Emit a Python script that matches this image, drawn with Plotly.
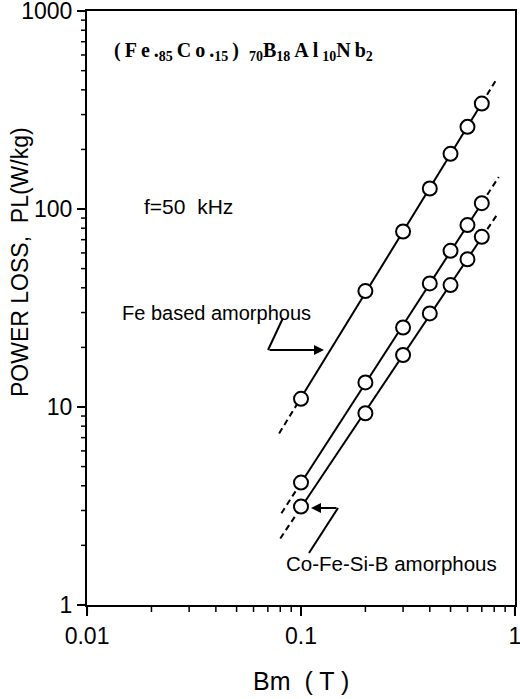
import numpy as np
import plotly.graph_objects as go

# Data (Bm in T, power loss in W/kg)
bm = [0.1, 0.2, 0.3, 0.4, 0.5, 0.6, 0.7]
pl_fe_based = [11.0, 38.5, 77.0, 127, 190, 260, 341]
pl_cofe_upper = [4.15, 13.3, 25.2, 42.1, 61.5, 83.0, 107]
pl_cofe_lower = [3.14, 9.3, 18.3, 29.7, 41.3, 55.7, 72.4]
series = [pl_fe_based, pl_cofe_upper, pl_cofe_lower]
# extent of dashed extrapolation of each fitted line
ext_lo = [0.079, 0.081, 0.080]
ext_hi = [0.81, 0.84, 0.82]

x_major = [0.01, 0.1, 1]
x_labels = ["0.01", "0.1", "1"]
y_major = [1, 10, 100, 1000]
y_labels = ["1", "10", "100", "1000"]
x_minor = [m * d for d in (0.01, 0.1) for m in range(2, 10)]
y_minor = [m * d for d in (1, 10, 100) for m in range(2, 10)]

W, H = 520, 699
ML, MR, MT, MB = 87, 5, 11, 94
PW, PH = W - ML - MR, H - MT - MB
XR = [-2.0003, 0.0003]
YR = [-0.0003, 3.0003]

fig = go.Figure()
for ys, lo, hi in zip(series, ext_lo, ext_hi):
    k, b = np.polyfit(np.log10(bm), np.log10(ys), 1)
    f = lambda x: 10 ** (k * np.log10(np.array(x)) + b)
    xs = [bm[0], bm[-1]]
    fig.add_trace(go.Scatter(x=xs, y=f(xs), mode="lines",
                             line=dict(color="black", width=2), showlegend=False, hoverinfo="skip"))
    for seg in ([lo, bm[0]], [bm[-1], hi]):
        fig.add_trace(go.Scatter(x=seg, y=f(seg), mode="lines",
                                 line=dict(color="black", width=2, dash="6px,4px"),
                                 showlegend=False, hoverinfo="skip"))
    fig.add_trace(go.Scatter(x=bm, y=ys, mode="markers",
                             marker=dict(symbol="circle", size=14, color="white",
                                         line=dict(color="black", width=2)),
                             showlegend=False))

font_ticks = dict(family="Liberation Sans", size=23, color="black")
fig.update_layout(
    xaxis=dict(type="log", range=XR, showgrid=False, zeroline=False, showline=True,
               linecolor="black", linewidth=2, mirror=True, ticks="outside", ticklen=9,
               tickwidth=2, tickcolor="black", tickmode="array", tickvals=x_major,
               ticktext=x_labels, tickfont=font_ticks, ticklabeloverflow="allow",
               automargin=False),
    yaxis=dict(type="log", range=YR, showgrid=False, zeroline=False, showline=True,
               linecolor="black", linewidth=2, mirror=True, ticks="outside", ticklen=8,
               tickwidth=2, tickcolor="black", tickmode="array", tickvals=y_major,
               ticktext=y_labels, tickfont=font_ticks, ticklabeloverflow="allow",
               automargin=False),
)

def px2paper(px, py):
    return (px - ML) / PW, (H - MB - py) / PH

annots = []
def text_at(px, py, text, size, family="Liberation Sans", xanchor="left", angle=0, weight="normal"):
    tx, ty = px2paper(px, py)
    annots.append(dict(x=tx, y=ty, xref="paper", yref="paper", xanchor=xanchor, yanchor="middle",
                       showarrow=False, text=text, textangle=angle,
                       font=dict(family=family, size=size, color="black", weight=weight)))

ts = "\u2009"
title = ts.join(["(", "F", "e", "."]) + "<sub>85</sub>" + ts + ts.join(["C", "o", "."]) + \
        "<sub>15</sub>" + ts + ")" + "  " + "<sub>70</sub>" + "B" + "<sub>18</sub>" + ts + \
        "A" + ts + "l" + ts + "<sub>10</sub>" + "N" + ts + "b" + "<sub>2</sub>"
text_at(112, 52, title, 20, family="Liberation Serif", weight="bold")
text_at(142, 206, "f=50  kHz", 21)
text_at(120, 313, "Fe based amorphous", 20)
text_at(284, 563, "Co-Fe-Si-B amorphous", 20.5)
text_at(20, 262, "POWER LOSS,  PL(W/kg)", 23, xanchor="center", angle=-90)
text_at(301, 681, "Bm  ( T )", 25, xanchor="center")

# leader arrows
tx, ty = px2paper(324, 350)
annots.append(dict(x=tx, y=ty, xref="paper", yref="paper", ax=-56, ay=0, text="",
                   showarrow=True, arrowhead=2, arrowsize=1, arrowwidth=2, arrowcolor="black"))
tx, ty = px2paper(311, 508)
annots.append(dict(x=tx, y=ty, xref="paper", yref="paper", ax=27, ay=0, text="",
                   showarrow=True, arrowhead=2, arrowsize=1, arrowwidth=2, arrowcolor="black"))

shapes = []
x0, y0 = px2paper(283, 318)
x1, y1 = px2paper(268, 350)
shapes.append(dict(type="line", xref="paper", yref="paper", x0=x0, y0=y0, x1=x1, y1=y1,
                   line=dict(color="black", width=2)))
x0, y0 = px2paper(309, 553)
x1, y1 = px2paper(338, 508)
shapes.append(dict(type="line", xref="paper", yref="paper", x0=x0, y0=y0, x1=x1, y1=y1,
                   line=dict(color="black", width=2)))

# outside tick marks (paper coordinates follow the log axis ranges)
def xpaper(v):
    return (np.log10(v) - XR[0]) / (XR[1] - XR[0])
def ypaper(v):
    return (np.log10(v) - YR[0]) / (YR[1] - YR[0])
for vals, ln, w in [(x_major, 9, 2), (x_minor, 7, 1.5)]:
    for v in vals:
        p = float(xpaper(v))
        shapes.append(dict(type="line", xref="paper", yref="paper", x0=p, x1=p,
                           y0=0, y1=-ln / PH, line=dict(color="black", width=w)))
for vals, ln, w in [(y_major, 8, 2), (y_minor, 6, 1.5)]:
    for v in vals:
        p = float(ypaper(v))
        shapes.append(dict(type="line", xref="paper", yref="paper", y0=p, y1=p,
                           x0=0, x1=-ln / PW, line=dict(color="black", width=w)))

fig.update_layout(width=W, height=H, margin=dict(l=ML, r=MR, t=MT, b=MB),
                  plot_bgcolor="white", paper_bgcolor="white",
                  annotations=annots, shapes=shapes, showlegend=False)
fig.write_html("out.html")
